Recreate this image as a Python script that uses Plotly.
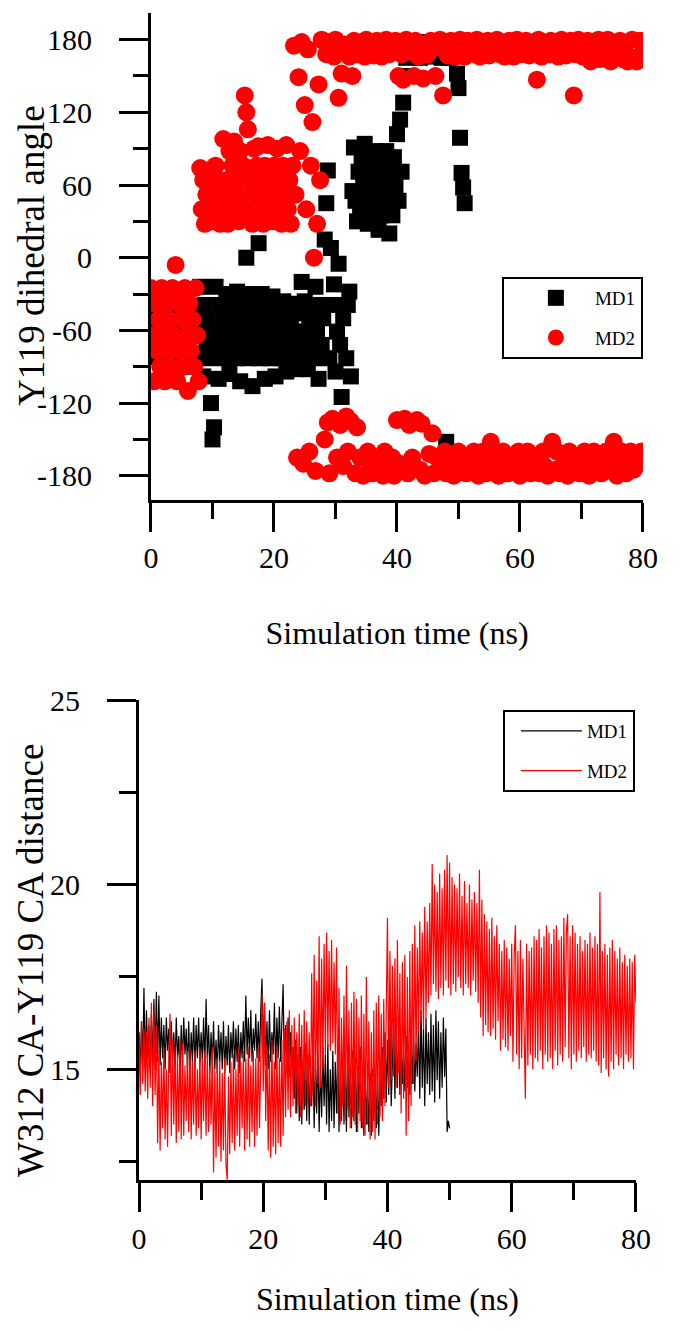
import plotly.graph_objects as go

ANGLE_STEP_NS = 0.25  # sampling interval of the dihedral trajectories (ns)
DIST_STEP_NS = 0.2    # sampling interval of the distance trajectories (ns)

# ---- Y119 dihedral angle (degrees) ----
md1_angle = [
    # 0 - 7.75 ns
    -55, -70, -48, -82, -60, -40, -75, -88, -52, -66, -45, -80, -58, -72, -38, -85,
    -62, -50, -78, -44, -68, -90, -56, -42, -74, -60, -48, -86, -64, -52, -80, -40,
    # 8 - 32.75 ns
    -24, -61, -98, -39, -72, -50, -83, -120, -150, -140,
    -24, -61, -100, -39, -72, -50, -83, -30, -61, -96,
    -39, -72, -50, -83, -28, -61, -102, -39, -72, -50,
    0, -83, -30, -61, -106, -39, -72, -50, 12, -83,
    -30, -61, -100, -39, -72, -50, -83, -32, -61, -98,
    -42, -72, -52, -83, -36, -61, -94, -44, -72, -52,
    -83, -38, -61, -92, -46, -72, -20, -83, -36, -61,
    -92, -48, -72, -52, -83, -24, -61, -100, -39, -72,
    -50, 15, 45, 72, -83, 8, -39, -22, -94, -61,
    -5, -72, -115, -50, -135, -83, -39, -28, -98, 55,
    # 33 - 41.75 ns
    91, 47, 30, 71, 35, 83, 59, 94, 47, 28,
    71, 35, 83, 59, 88, 47, 23, 71, 35, 83,
    59, 88, 47, 20, 71, 35, 83, 59, 102, 47,
    114, 71, 128, 150, 165, 172,
    # 42 - 51 ns
    170, 176, 166, 174, 178, 168, 173, 165, 171, 177, 167, 175,
    169, 174, 178, 166, 175, 168, 172, 177, 170, 165, 174, 168,
    -152, 170, 165, 174, 168, 176, 171, 152, 140, 99, 70, 58, 45,
]

md2_angle = [
    # 0 - 7.75 ns
    -25, -64, -102, -38, -77, -51, -90, -25, -64, -102, -38, -77, -51, -90,
    -25, -64, -6, -102, -38, -77, -51, -90, -25, -64, -110, -38, -77, -51,
    -90, -25, -64, -102,
    # 8 - 23 ns
    74, 40, 64, 28, 52, 72, 40, 64, 30, 52, 76, 40, 64, 28, 52,
    98, 40, 64, 28, 88, 52, 76, 96, 40, 64, 30, 88, 52, 76,
    134, 120, 106,
    40, 64, 28, 90, 52, 76, 92, 40, 64, 28, 76, 52, 93, 40, 64, 30,
    76, 52, 90, 40, 64, 28, 76, 52, 93, 40, 64, 28, 76,
    # 23.25 - 27.75 ns
    175, 52, -165, 149, 88, 178, -170, 126, 40, 172,
    -160, 76, 112, 0, -176, 28, 143, 64, 180,
    # 28 - 80 ns
    179, -150, 168, -136, -178, 174, -133, 166, 180, -165, 132, -138, 152, -172, 176, -131,
    -160, 166, -135, 150, 179, -178, -140, 168, -165, 174, -180, 166, 180, -160, 170, -172,
    -178, 167, -165, 179, 174, -170, 166, -180, -160, 180, -175, 168, 176, -165, -180, 179,
    -134, 150, -170, 168, 147, -133, 180, -178, -138, 170, -165, 150, 179, -134, 166, -175,
    -137, 148, -180, 176, 168, -162, 179, -145, -178, 150, -165, 174, 180, -170, 134, -160,
    -178, 167, -165, 179, 174, -180, 166, -168, -160, 180, -175, 170, 166, -178, 179, -165,
    -172, 174, -160, 168, 180, -180, 166, -168, -160, 176, -178, 179, 167, -152, 174, -175,
    -165, 180, -180, 168, 176, -160, 166, -172, -178, 179, -165, 170, 166, -175, 180, -160,
    -180, 168, -168, 176, 179, -160, 167, -178, -170, 174, -165, 147, 180, -178, 166, -160,
    -172, 176, -180, 168, 179, -152, 170, -175, -160, 166, -178, 180, 174, -168, 167, -180,
    -160, 179, -175, 134, 168, -165, 180, -178, -170, 166, -160, 176, 179, -180, 162, -168,
    -160, 174, -175, 180, 164, -178, 170, -165, -160, 180, -172, 162, 176, -152, 166, -180,
    -168, 179, -160, 164, 174, -178, 162, -168, -160, 180, -175, 165, 162, -170, 179, -160,
    170,
]

# ---- W312 CA - Y119 CA distance (angstrom) ----
md1_dist = [
    16.0, 14.9, 16.3, 15.2, 17.2, 15.0, 16.6, 15.3, 16.2, 14.9,
    16.5, 15.1, 16.9, 15.4, 17.1, 15.2, 17.0, 15.1, 16.4, 15.3,
    16.2, 15.0, 16.4, 15.5, 16.1, 14.9, 16.3, 15.2, 16.0, 15.0,
    16.4, 15.3, 15.9, 14.9, 16.2, 15.1, 16.4, 15.4, 16.1, 15.0,
    16.3, 14.9, 16.0, 15.2, 16.4, 15.0, 16.2, 15.3, 16.4, 15.1,
    16.0, 15.2, 16.4, 15.0, 16.9, 15.3, 16.2, 14.9, 16.0, 15.1,
    16.3, 15.0, 15.8, 14.9, 16.2, 15.2, 16.0, 15.0, 16.3, 14.9,
    15.9, 15.1, 16.2, 14.9, 16.0, 15.3, 16.3, 15.0, 16.1, 15.2,
    16.2, 14.9, 16.0, 15.3, 16.3, 15.2, 17.0, 15.4, 16.4, 15.3,
    16.6, 15.2, 16.1, 15.5, 16.5, 15.3, 16.3, 15.2, 16.6, 17.45,
    15.4, 16.8, 15.1, 16.3, 15.0, 16.6, 15.2, 16.0, 15.4, 16.8,
    15.0, 16.4, 15.3, 16.7, 15.2, 16.3, 17.3, 15.0, 16.2, 14.9,
    16.4, 14.8, 16.0, 15.1, 15.6, 14.2, 15.8, 13.8, 15.4, 13.6,
    15.6, 13.5, 15.2, 13.9, 15.7, 13.6, 15.4, 13.5, 15.0, 14.0,
    15.7, 13.4, 15.3, 13.8, 15.5, 13.3, 15.1, 13.7, 15.6, 14.0,
    15.4, 13.5, 15.7, 13.3, 15.0, 13.6, 15.5, 13.4, 15.2, 13.8,
    15.6, 13.3, 14.9, 13.6, 15.4, 13.5, 15.2, 13.3, 15.7, 13.7,
    15.0, 13.4, 15.5, 13.6, 15.3, 13.3, 15.1, 13.8, 15.6, 13.4,
    14.8, 13.2, 15.0, 13.5, 14.6, 13.3, 14.9, 13.2, 15.0, 13.6,
    14.7, 13.4, 15.0, 13.2, 14.8, 14.0, 15.6, 14.2, 16.0, 14.1,
    15.8, 14.3, 16.2, 14.0, 15.5, 16.4, 14.2, 15.9, 14.5, 16.1,
    14.3, 15.8, 14.6, 15.5, 14.4, 15.9, 14.5, 15.6, 14.3, 15.8,
    14.6, 16.0, 14.4, 15.7, 14.8, 16.3, 14.2, 16.6, 14.5, 16.1,
    14.0, 16.4, 14.6, 16.0, 14.3, 16.5, 14.4, 16.2, 14.1, 16.6,
    14.7, 16.3, 14.2, 16.0, 14.5, 16.4, 14.8, 16.1, 13.3, 13.6,
    13.4,
]

md2_dist = [
    15.8, 14.3, 16.3, 14.6, 16.1, 14.4, 16.0, 14.2, 16.4, 14.5,
    16.8, 14.0, 16.6, 14.3, 16.2, 13.0, 15.5, 12.8, 15.2, 13.4,
    15.6, 13.1, 15.0, 12.9, 15.4, 16.5, 13.2, 15.8, 13.5, 15.6,
    13.0, 15.4, 13.3, 15.8, 13.1, 15.7, 13.2, 15.1, 13.6, 15.5,
    13.3, 15.6, 13.1, 15.2, 13.5, 15.5, 13.2, 15.0, 13.4, 15.6,
    13.1, 15.3, 13.6, 15.5, 13.2, 15.4, 13.3, 15.1, 13.5, 15.6,
    12.2, 15.0, 12.6, 15.3, 12.9, 15.2, 12.5, 14.9, 12.8, 15.3,
    12.4, 12.0, 14.8, 12.7, 15.2, 13.0, 15.4, 12.8, 15.0, 13.2,
    15.6, 12.9, 15.2, 13.4, 15.5, 12.8, 15.3, 13.1, 15.6, 12.9,
    15.1, 13.3, 15.5, 12.9, 15.3, 13.2, 15.6, 13.4, 15.1, 17.05,
    14.4, 16.8, 13.6, 15.7, 12.8, 15.4, 12.6, 15.8, 12.9, 15.2,
    12.7, 15.6, 13.0, 15.3, 12.9, 15.8, 13.2, 16.1, 13.7, 16.3,
    13.9, 16.6, 13.7, 16.2, 14.0, 16.4, 13.8, 16.0, 14.1, 16.5,
    13.7, 16.2, 13.9, 16.6, 14.0, 16.3, 14.2, 16.0, 14.0, 17.6,
    14.3, 18.1, 14.0, 17.4, 14.6, 18.6, 14.5, 18.0, 15.0, 18.4,
    15.4, 18.7, 15.6, 18.2, 15.5, 18.5, 15.7, 17.9, 15.4, 18.3,
    13.8, 17.2, 13.5, 16.4, 14.0, 17.0, 13.6, 17.8, 13.9, 16.6,
    13.4, 16.8, 13.7, 17.1, 13.5, 16.9, 13.3, 16.4, 13.6, 17.0,
    13.4, 16.5, 13.2, 17.5, 13.5, 16.3, 13.1, 16.0, 13.3, 16.6,
    13.1, 16.8, 13.5, 17.0, 13.7, 16.5, 13.6, 16.9, 14.0, 16.2,
    19.1, 14.5, 18.2, 14.7, 17.8, 14.8, 18.0, 14.5, 18.5, 14.9,
    17.6, 13.8, 17.9, 14.2, 18.1, 13.2, 17.5, 13.6, 18.2, 14.0,
    18.4, 14.6, 18.9, 15.2, 18.3, 16.0, 19.0, 16.3, 18.7, 16.1,
    19.4, 16.4, 19.0, 16.8, 19.5, 17.0, 20.56, 17.3, 20.0, 17.1,
    19.8, 16.9, 20.3, 17.2, 19.9, 17.0, 20.4, 17.4, 20.8, 17.2,
    20.6, 17.0, 20.2, 17.3, 20.0, 17.1, 19.9, 17.5, 20.3, 17.2,
    19.7, 17.0, 20.1, 17.3, 19.5, 17.2, 20.0, 17.0, 19.6, 17.4,
    19.8, 17.1, 19.5, 16.8, 20.4, 16.4, 19.6, 15.9, 19.2, 16.2,
    19.0, 16.0, 18.8, 15.9, 19.1, 16.1, 18.6, 15.8, 18.9, 16.3,
    18.4, 15.5, 18.2, 15.8, 18.5, 15.6, 18.3, 15.5, 18.0, 15.9,
    18.4, 15.2, 18.1, 18.9, 15.4, 18.2, 15.0, 18.5, 15.3, 18.0,
    15.6, 14.2, 18.4, 15.1, 18.2, 15.4, 18.3, 15.0, 18.6, 15.3,
    18.5, 15.2, 18.8, 15.5, 18.3, 15.0, 18.6, 15.4, 18.9, 15.2,
    18.7, 15.3, 18.4, 15.0, 18.8, 15.5, 18.9, 15.1, 18.5, 15.4,
    18.6, 15.2, 19.1, 15.6, 18.7, 19.2, 15.3, 18.6, 15.0, 18.9,
    15.4, 18.7, 15.2, 18.4, 15.5, 18.6, 15.3, 18.2, 15.6, 18.5,
    15.2, 18.4, 15.4, 18.7, 15.3, 18.3, 15.5, 18.6, 15.2, 18.4,
    15.1, 19.8, 14.9, 18.2, 15.3, 18.4, 15.0, 18.1, 14.8, 18.3,
    15.2, 18.5, 15.0, 18.2, 15.4, 18.0, 15.1, 18.3, 15.3, 17.9,
    15.0, 18.1, 15.4, 17.8, 15.2, 18.0, 15.3, 17.9, 15.0, 18.1,
    16.8,
]

series_names = ["MD1", "MD2"]
x_ticks = [0, 20, 40, 60, 80]
angle_ticks = [-180, -120, -60, 0, 60, 120, 180]
dist_ticks = [15, 20, 25]
angle_title = "Y119 dihedral angle"
dist_title = "W312 CA-Y119 CA distance"
time_title = "Simulation time (ns)"


def sample_times(values, step):
    return [round(i * step, 2) for i in range(len(values))]


def hyphen_labels(vals):
    return [str(v) for v in vals]


FONT = "Liberation Serif, Times New Roman, serif"
fig = go.Figure()

fig.add_trace(go.Scatter(
    x=sample_times(md1_angle, ANGLE_STEP_NS), y=md1_angle, mode="markers", name=series_names[0],
    marker=dict(symbol="square", size=16, color="#000000", line=dict(width=0)),
    xaxis="x", yaxis="y", legend="legend", legendgroup="a1"))
fig.add_trace(go.Scatter(
    x=sample_times(md2_angle, ANGLE_STEP_NS), y=md2_angle, mode="markers", name=series_names[1],
    marker=dict(symbol="circle", size=18, color="#FF0000", line=dict(width=0)),
    xaxis="x", yaxis="y", legend="legend", legendgroup="a2"))

fig.add_trace(go.Scatter(
    x=sample_times(md1_dist, DIST_STEP_NS), y=md1_dist, mode="lines", name=series_names[0],
    line=dict(color="#000000", width=1.2),
    xaxis="x2", yaxis="y2", legend="legend2", legendgroup="b1"))
fig.add_trace(go.Scatter(
    x=sample_times(md2_dist, DIST_STEP_NS), y=md2_dist, mode="lines", name=series_names[1],
    line=dict(color="#FF0000", width=1.2),
    xaxis="x2", yaxis="y2", legend="legend2", legendgroup="b2"))

axis_common = dict(
    showline=True, linecolor="black", linewidth=3, showgrid=False, zeroline=False,
    ticks="outside", tickcolor="black", tickwidth=3, ticklen=29,
    tickfont=dict(family=FONT, size=30, color="black"),
    mirror=False, automargin=False,
)
TITLE_FONT = dict(family=FONT, size=32, color="black")

fig.update_layout(
    width=681, height=1332,
    margin=dict(l=139, r=38, t=13, b=152),
    paper_bgcolor="white", plot_bgcolor="white",
    font=dict(family=FONT, color="black"),
    xaxis=dict(
        **axis_common, domain=[0.0238, 1.0], range=[0, 80],
        tickvals=x_ticks, ticktext=hyphen_labels(x_ticks),
        minor=dict(dtick=10, ticks="outside", ticklen=16, tickwidth=3, tickcolor="black"),
        anchor="y", ticklabelstandoff=0,
        title=dict(text=time_title, font=TITLE_FONT, standoff=49),
    ),
    yaxis=dict(
        **axis_common, domain=[0.5827, 1.0], range=[-200, 202],
        tickvals=angle_ticks, ticktext=hyphen_labels(angle_ticks),
        minor=dict(dtick=30, ticks="outside", ticklen=15, tickwidth=3, tickcolor="black"),
        anchor="x", ticklabelstandoff=21,
    ),
    xaxis2=dict(
        **axis_common, domain=[0.0, 0.986], range=[0, 80],
        tickvals=x_ticks, ticktext=hyphen_labels(x_ticks),
        minor=dict(dtick=10, ticks="outside", ticklen=17, tickwidth=3, tickcolor="black"),
        anchor="y2", ticklabelstandoff=1,
        title=dict(text=time_title, font=TITLE_FONT, standoff=34),
    ),
    yaxis2=dict(
        **axis_common, domain=[0.0, 0.4113], range=[12, 25],
        tickvals=dist_ticks, ticktext=hyphen_labels(dist_ticks),
        minor=dict(dtick=2.5, ticks="outside", ticklen=17, tickwidth=3, tickcolor="black"),
        anchor="x2", ticklabelstandoff=21,
    ),
    annotations=[
        dict(text=angle_title, textangle=-90, xref="paper", yref="paper",
             x=-0.2143, y=0.7926, xanchor="center", yanchor="middle", showarrow=False,
             font=dict(family=FONT, size=37, color="black")),
        dict(text=dist_title, textangle=-90, xref="paper", yref="paper",
             x=-0.2163, y=0.1885, xanchor="center", yanchor="middle", showarrow=False,
             font=dict(family=FONT, size=37, color="black")),
    ],
    legend=dict(
        x=0.720, y=0.7738, xanchor="left", yanchor="top",
        bordercolor="black", borderwidth=2, bgcolor="white",
        font=dict(family=FONT, size=19, color="black"),
        tracegroupgap=12, indentation=13, itemwidth=68,
    ),
    legend2=dict(
        x=0.722, y=0.4027, xanchor="left", yanchor="top",
        bordercolor="black", borderwidth=2, bgcolor="white",
        font=dict(family=FONT, size=19, color="black"),
        tracegroupgap=12, indentation=11, itemwidth=61,
    ),
    showlegend=True,
)

fig.write_html("out.html", config={"displayModeBar": False},
               post_script="document.body.style.margin='0px';")
